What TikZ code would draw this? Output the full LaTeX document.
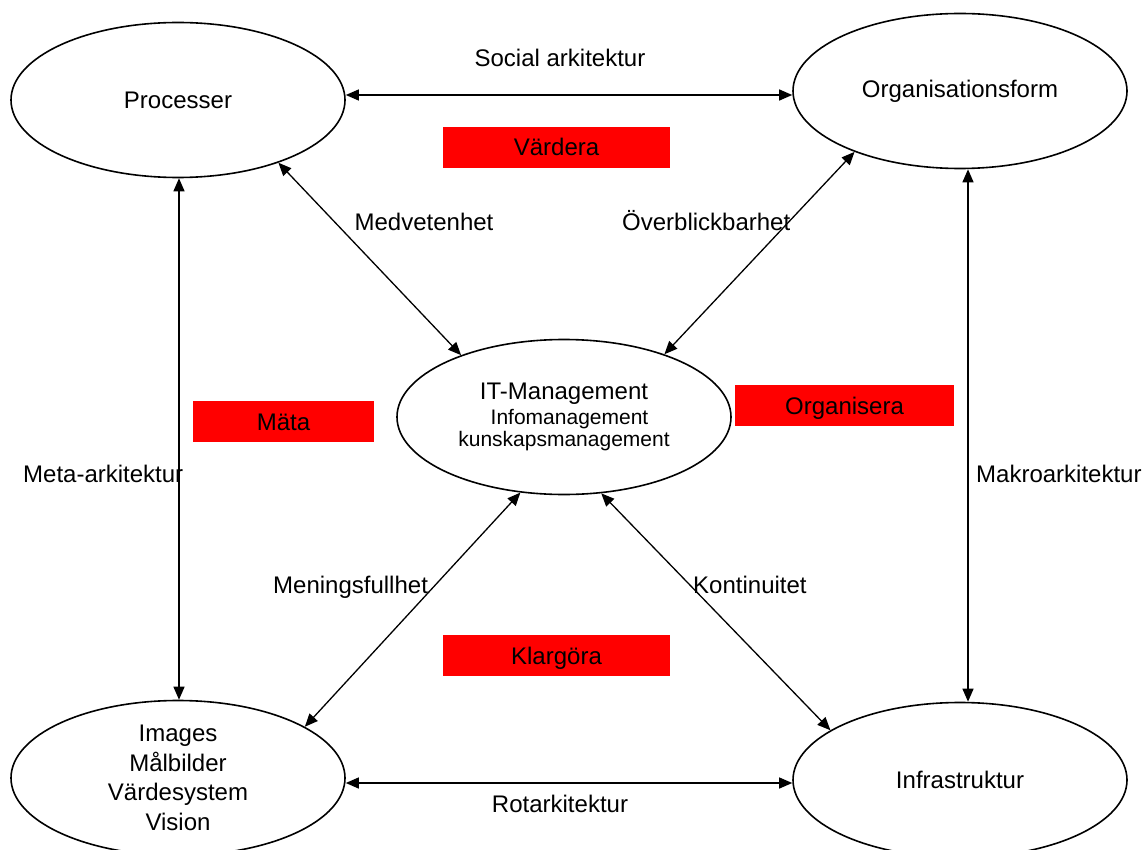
\documentclass[tikz,border=0pt]{standalone}
\usepackage{fontspec}
\setmainfont{Liberation Sans}
\usetikzlibrary{arrows.meta,shapes.geometric}

\tikzset{
	blob/.style={draw, ellipse, line width=1.6pt, minimum width=334pt, minimum height=155pt, inner sep=0pt, align=center, font=\fontsize{24}{29.5}\selectfont},
	link/.style={line width=1.3pt, {Triangle[length=13pt,width=11pt]}-{Triangle[length=13pt,width=11pt]}},
	lbl/.style={inner sep=0pt, font=\fontsize{24}{29}\selectfont},
	task/.style={fill=red, minimum width=227pt, minimum height=41pt, inner sep=0pt, text height=17pt, text depth=0pt, font=\fontsize{24}{29}\selectfont}
}

\begin{document}
\begin{tikzpicture}[x=1pt,y=-1pt]
			\useasboundingbox (0,0) rectangle (1142,850);
			\node[blob] (proc) at (178,100) {Processer};
			\node[blob] (org) at (960,91) {Organisationsform};
			\node[blob, font=\fontsize{24}{24}\selectfont] (it) at (564,417) {IT-Management\\[1pt]
				{\fontsize{21}{22}\selectfont\hspace*{11pt}Infomanagement}\\[-2pt]
				{\fontsize{21}{22}\selectfont kunskapsmanagement}};
			\node[blob] (img) at (178,778) {Images\\Målbilder\\Värdesystem\\Vision};
			\node[blob] (infra) at (960,780) {Infrastruktur};
			\node[task] (vard) at (556.5,147.5) {Värdera};
			\node[task, minimum width=181pt] (mata) at (283.5,421.5) {Mäta};
			\node[task, minimum width=219pt] (orgn) at (844.5,405.5) {Organisera};
			\node[task] (klar) at (556.5,655.5) {Klargöra};
			\coordinate (soc) at (560,95);
			\coordinate (rot) at (560,783);
			\coordinate (meta) at (179,0);
			\coordinate (makro) at (968,0);
			\draw[link] (soc -| proc.east) -- (soc -| org.west);
			\draw[link] (rot -| img.east) -- (rot -| infra.west);
			\draw[link] (meta |- proc.south) -- (meta |- img.north);
			\draw[link] (makro |- org.south) -- (makro |- infra.north);
			\draw[link] (proc.-32) -- (it.149);
			\draw[link] (it.32) -- (org.-150);
			\draw[link] (img.22) -- (it.-120);
			\draw[link] (it.-64) -- (infra.159);
			\node[lbl, anchor=base] (lsoc) at (560,67) {Social arkitektur};
			\node[lbl, anchor=base] (lrot) at (560,812) {Rotarkitektur};
			\node[lbl, anchor=base west] (lmeta) at (23,482) {Meta-arkitektur};
			\node[lbl, anchor=base west] (lmakro) at (976,482) {Makroarkitektur};
			\node[lbl, anchor=base] (lmed) at (424,231) {Medvetenhet};
			\node[lbl, anchor=base west] (lover) at (622,231) {Överblickbarhet};
			\node[lbl, anchor=base west] (lmen) at (273,593) {Meningsfullhet};
			\node[lbl, anchor=base west] (lkont) at (693,593) {Kontinuitet};
		\end{tikzpicture}
\end{document}
